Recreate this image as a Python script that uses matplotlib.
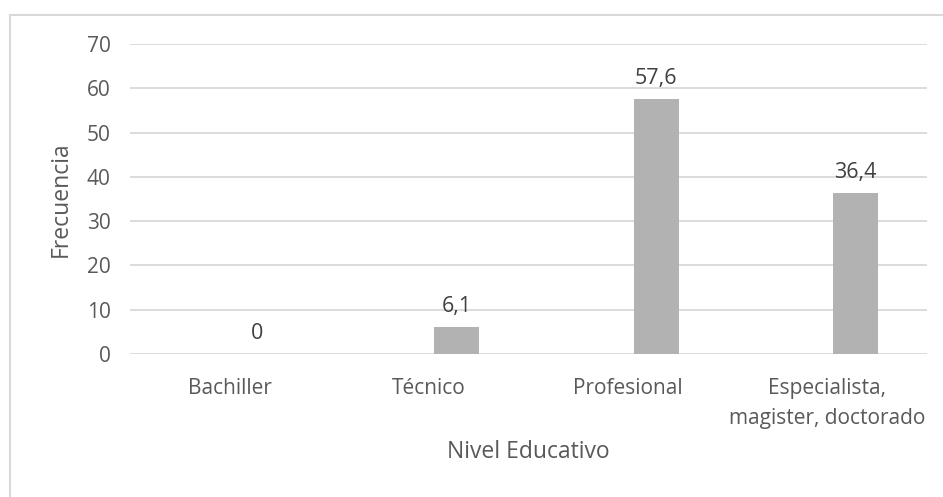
import matplotlib
matplotlib.use("Agg")
import matplotlib.pyplot as plt
from matplotlib.patches import Rectangle

categorias = ["Bachiller", "Técnico", "Profesional", "Especialista,\nmagister, doctorado"]
frecuencia = [0, 6.1, 57.6, 36.4]
y_ticks = [0, 10, 20, 30, 40, 50, 60, 70]

texto = "#595959"
plt.rcParams["font.family"] = ["Open Sans", "DejaVu Sans"]

fig = plt.figure(figsize=(9.43, 4.97), dpi=100)
ax = fig.add_axes([130 / 943, 1 - 354 / 497, 797 / 943, 310 / 497])

# marco del gráfico
fig.patches.append(Rectangle((10 / 943, -0.1), 1.2, 1 - 15 / 497 + 0.1,
                             transform=fig.transFigure, fill=False,
                             edgecolor="#d9d9d9", linewidth=1.5))

x = list(range(len(categorias)))
xb = [i + 0.14 for i in x]
barras = ax.bar(xb, frecuencia, width=0.226, color="#b2b2b2", zorder=2)

for xi, v in zip(xb, frecuencia):
    ax.annotate(f"{v:g}".replace(".", ","), (xi, v), xytext=(0, 7),
                textcoords="offset points", ha="center", va="bottom",
                fontsize=15.5, color="#404040")

ax.set_xlim(-0.5, 3.5)
ax.set_ylim(0, 70)
ax.set_yticks(y_ticks)
ax.set_xticks(x)
ax.set_xticklabels(categorias, linespacing=1.58)
ax.tick_params(axis="both", length=0, labelsize=15, colors=texto)
ax.tick_params(axis="x", pad=17)
ax.tick_params(axis="y", pad=14)
ax.grid(axis="y", color="#d9d9d9", linewidth=1.3, zorder=0)
for s in ax.spines.values():
    s.set_visible(False)

ax.set_ylabel("Frecuencia", fontsize=16.5, color=texto, labelpad=10)
ax.set_xlabel("Nivel Educativo", fontsize=16.5, color=texto, labelpad=8)

fig.savefig("out.png", dpi=100)
